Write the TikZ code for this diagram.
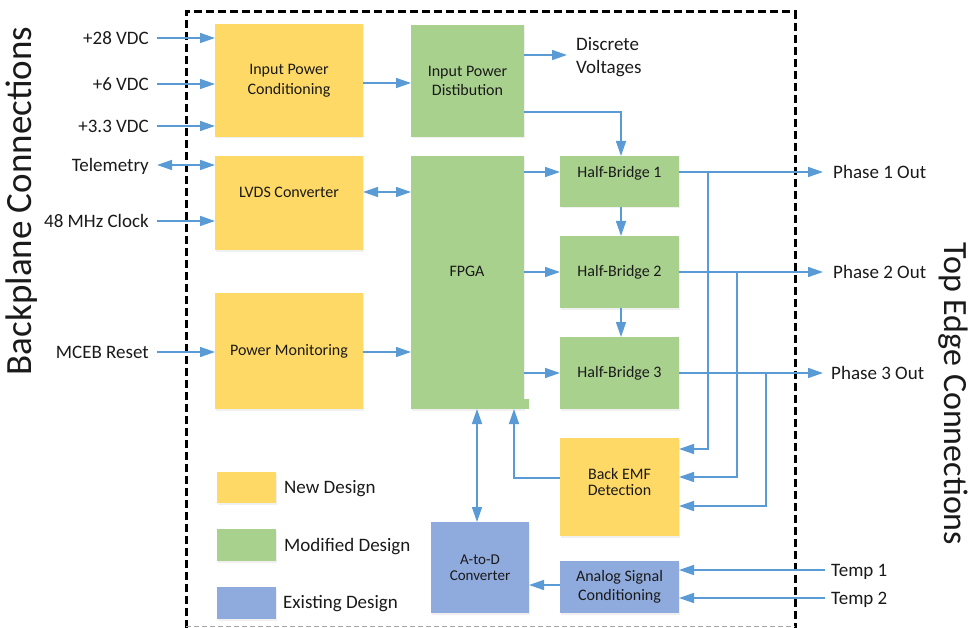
\documentclass[tikz,border=0pt]{standalone}
\usepackage{fontspec}
\setmainfont{Carlito}
\usetikzlibrary{arrows.meta,shadows,calc}

\definecolor{newc}{HTML}{FFD966}
\definecolor{modc}{HTML}{A9D18E}
\definecolor{exic}{HTML}{8FAADC}
\definecolor{wirec}{HTML}{5B9BD5}
\definecolor{ink}{HTML}{1A1A1A}

\begin{document}
\begin{tikzpicture}[x=1pt,y=-1pt,
  blk/.style={inner sep=0pt, outer sep=0pt, anchor=north west, align=center,
    font=\fontsize{16}{19.5}\selectfont, text=ink,
    drop shadow={opacity=0.12, shadow xshift=1pt, shadow yshift=-1.5pt}},
  newblk/.style={blk, fill=newc},
  modblk/.style={blk, fill=modc},
  exiblk/.style={blk, fill=exic},
  boxtxt/.style={inner sep=0pt, font=\fontsize{16}{19.5}\selectfont, text=ink,
    text height=10.3pt, text depth=0pt},
  sig/.style={inner sep=0pt, font=\fontsize{19}{23}\selectfont, text=ink,
    text height=12.2pt, text depth=0pt},
  tip/.tip={Triangle[length=15pt,width=10pt]},
  wire/.style={draw=wirec, line width=1.5pt},
  arr/.style={wire, -tip},
  darr/.style={wire, tip-tip}
]
\useasboundingbox (0,0) rectangle (973,628);

% board outline
\draw[line width=3pt, dash pattern=on 8pt off 4pt] (186,640) -- (186,12) -- (795,12) -- (795,640);
\draw[gray!70, line width=0.8pt, dash pattern=on 5pt off 3pt] (186,626) -- (795,626);

% side captions
\node[rotate=90, inner sep=0pt, font=\fontsize{37}{40}\selectfont, text=ink] (bpc) at (22,201) {Backplane Connections};
\node[rotate=-90, inner sep=0pt, font=\fontsize{34}{38}\selectfont, text=ink] (tec) at (953,394) {Top Edge Connections};

% functional blocks
\node[newblk, minimum width=148pt, minimum height=113pt] (ipc) at (215,24) {Input Power\\Conditioning};
\node[newblk, minimum width=148pt, minimum height=94pt] (lvds) at (215,156) {};
\node[boxtxt] (lvdst) at (289,192) {LVDS Converter};
\node[newblk, minimum width=148pt, minimum height=116pt] (pmon) at (215,293) {Power Monitoring};
\node[modblk, minimum width=113pt, minimum height=112pt] (ipd) at (411,25) {Input Power\\Distibution};
\node[modblk, minimum width=113pt, minimum height=253pt] (fpga) at (411,156) {};
\fill[modc] (524,399) rectangle (529,409);
\node[boxtxt] (fpgat) at (467,271) {FPGA};
\node[modblk, minimum width=119pt, minimum height=51pt] (hb1) at (560,156) {};
\node[boxtxt] (hb1t) at (619.5,172) {Half-Bridge 1};
\node[modblk, minimum width=119pt, minimum height=72pt] (hb2) at (560,236) {Half-Bridge 2};
\node[modblk, minimum width=119pt, minimum height=72pt] (hb3) at (560,337) {Half-Bridge 3};
\node[newblk, minimum width=119pt, minimum height=98pt] (bemf) at (560,438) {};
\node[inner sep=0pt, align=center, font=\fontsize{16}{15.5}\selectfont, text=ink] (bemft) at (619.5,482) {Back EMF\\Detection};
\node[exiblk, minimum width=119pt, minimum height=52pt] (asc) at (560,561) {Analog Signal\\Conditioning};
\node[exiblk, minimum width=98pt, minimum height=91pt, font=\fontsize{15}{15.5}\selectfont] (adc) at (431,522) {A-to-D\\Converter};

% legend
\node[newblk, minimum width=59pt, minimum height=31pt] (lnew) at (217,472) {};
\node[modblk, minimum width=59pt, minimum height=32pt] (lmod) at (217,529) {};
\node[exiblk, minimum width=59pt, minimum height=32pt] (lexi) at (217,587) {};
\node[sig, anchor=west] (tnew) at (284,487) {New Design};
\node[sig, anchor=west] (tmod) at (284,545) {Modified Design};
\node[sig, anchor=west] (texi) at (283,602) {Existing Design};

% backplane signals
\node[sig, anchor=east] (l28) at (149,38) {+28 VDC};
\node[sig, anchor=east] (l6) at (149,84) {+6 VDC};
\node[sig, anchor=east] (l33) at (149,126) {+3.3 VDC};
\node[sig, anchor=east] (ltel) at (149,165) {Telemetry};
\node[sig, anchor=east] (lclk) at (149,221) {48 MHz Clock};
\node[sig, anchor=east] (lrst) at (149,352) {MCEB Reset};

\draw[arr] ([xshift=8pt]l28.east) -- (ipc.west |- l28.east);
\draw[arr] ([xshift=8pt]l6.east) -- (ipc.west |- l6.east);
\draw[arr] ([xshift=8pt]l33.east) -- (ipc.west |- l33.east);
\draw[darr] ([xshift=8pt]ltel.east) -- (lvds.west |- ltel.east);
\draw[arr] ([xshift=8pt]lclk.east) -- (lvds.west |- lclk.east);
\draw[arr] ([xshift=8pt]lrst.east) -- (pmon.west |- lrst.east);

% top-edge signals
\node[sig, anchor=west] (p1) at (833,172) {Phase 1 Out};
\node[sig, anchor=west] (p2) at (833,272) {Phase 2 Out};
\node[sig, anchor=west] (p3) at (831,373) {Phase 3 Out};
\node[sig, anchor=west] (t1) at (831,570) {Temp 1};
\node[sig, anchor=west] (t2) at (831,598) {Temp 2};
\node[inner sep=0pt, anchor=west, align=left, font=\fontsize{19}{23}\selectfont, text=ink] (dv) at (576,57) {Discrete\\Voltages};

% internal connections
\draw[arr] (ipc.east |- 0,83) -- (ipd.west |- 0,83);
\draw[darr] (lvds.east |- 0,192) -- (fpga.west |- 0,192);
\draw[arr] (pmon.east |- 0,352) -- (fpga.west |- 0,352);
\draw[arr] (ipd.east |- 0,55) -- ([xshift=-9pt]dv.west |- 0,55);
\draw[arr] (ipd.east |- 0,112) -| (hb1.north -| 621,0);
\draw[arr] (fpga.east |- 0,172) -- (hb1.west |- 0,172);
\draw[arr] (fpga.east |- 0,272) -- (hb2.west |- 0,272);
\draw[arr] (fpga.east |- 0,373) -- (hb3.west |- 0,373);
\draw[arr] (hb1.south -| 621,0) -- (hb2.north -| 621,0);
\draw[arr] (hb2.south -| 621,0) -- (hb3.north -| 621,0);

% phase outputs
\draw[arr] (hb1.east |- p1.west) -- ([xshift=-10pt]p1.west);
\draw[arr] (hb2.east |- p2.west) -- ([xshift=-10pt]p2.west);
\draw[arr] (hb3.east |- p3.west) -- ([xshift=-8pt]p3.west);

% back-EMF sense taps
\coordinate (j1) at (708,172);
\coordinate (j2) at (737,272);
\coordinate (j3) at (766,373);
\draw[arr] (j1) |- (bemf.east |- 0,449);
\draw[arr] (j2) |- (bemf.east |- 0,477);
\draw[arr] (j3) |- (bemf.east |- 0,506);
\draw[arr] (bemf.west |- 0,478) -| (fpga.south -| 514,0);

% converter paths
\draw[darr] (fpga.south -| 477,0) -- (adc.north -| 477,0);
\draw[arr] (asc.west |- 0,585) -- (adc.east |- 0,585);
\draw[arr] ([xshift=-6pt]t1.west) -- (asc.east |- t1.west);
\draw[arr] ([xshift=-6pt]t2.west) -- (asc.east |- t2.west);
\end{tikzpicture}
\end{document}
